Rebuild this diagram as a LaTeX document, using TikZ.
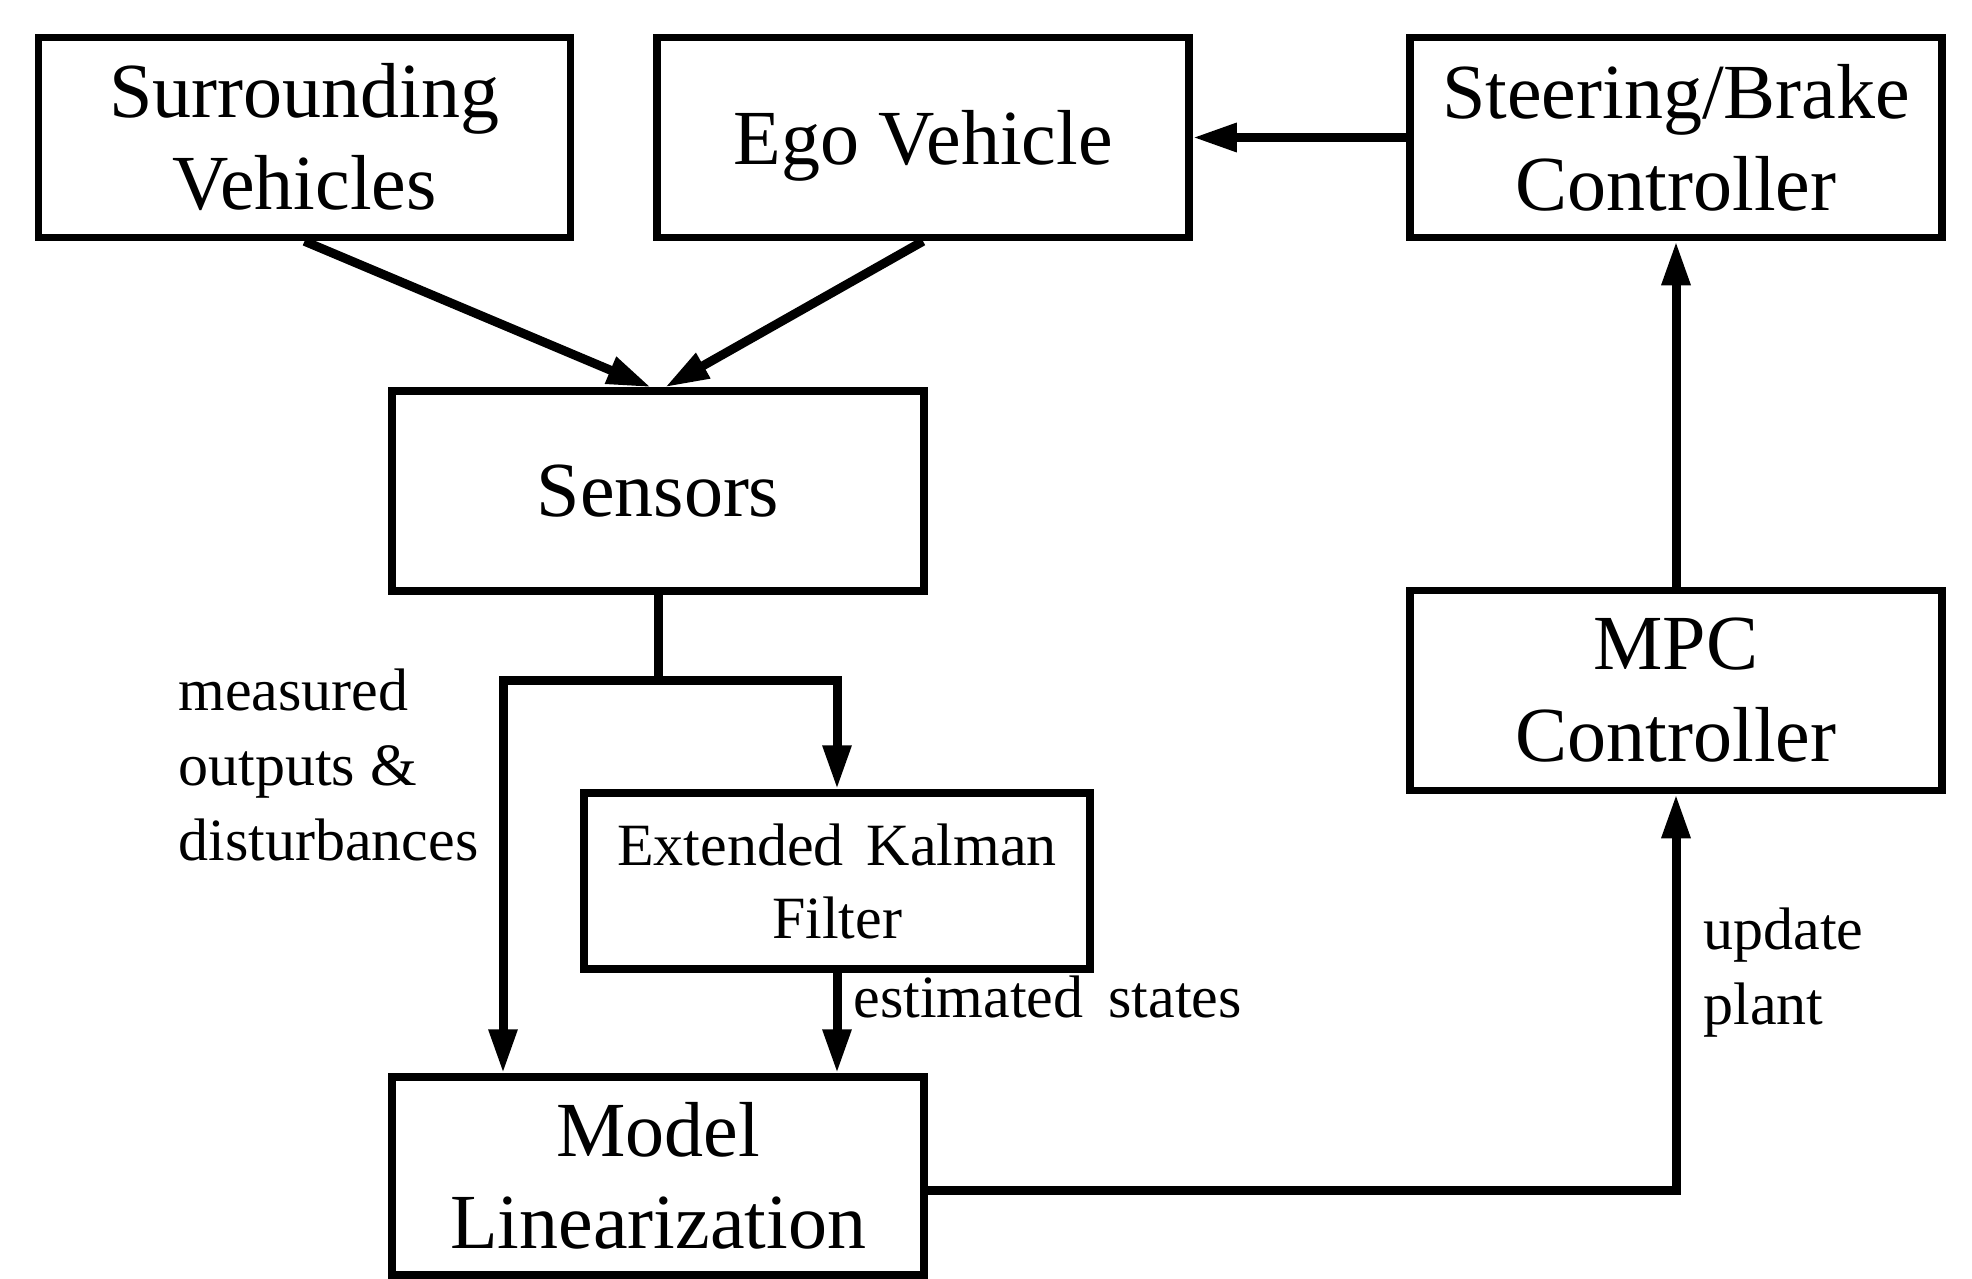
\documentclass[tikz,border=0pt]{standalone}
\usepackage{fontspec}
\setmainfont{Liberation Serif}
\usetikzlibrary{arrows.meta}
\begin{document}
\begin{tikzpicture}[x=0.5pt,y=-0.5pt,
  box/.style={draw, line width=3.75pt, minimum width=266pt, minimum height=100pt, inner sep=0pt, align=center, font=\fontsize{39}{46}\selectfont},
  conn/.style={line width=4.5pt, -{Triangle[length=22pt,width=13.5pt]}},
  wire/.style={line width=4.5pt},
  lab/.style={inner sep=0pt, align=left, font=\fontsize{30}{37.5}\selectfont}]
\useasboundingbox (0,0) rectangle (1972,1279);
\node[box] (sv) at (304.5,137.5) {Surrounding\\Vehicles};
\node[box, text depth=0pt] (ev) at (923,137.5) {Ego Vehicle};
\node[box] (sb) at (1676,137.5) {Steering/Brake\\Controller};
\node[box] (sen) at (658,491) {Sensors};
\node[box] (mpc) at (1676,690.5) {MPC\\Controller};
\node[box, minimum width=253pt, minimum height=88pt, font=\fontsize{30}{36.5}\selectfont] (ekf) at (837,881) {Extended\hspace{4pt} Kalman\\Filter};
\node[box, minimum height=99pt] (ml) at (658,1176) {Model\\Linearization};

\draw[conn] (sv.south) -- ([xshift=-3.5pt]sen.north);
\draw[conn] (ev.south) -- ([xshift=3.5pt]sen.north);
\draw[conn] (sb.west) -- (ev.east);
\draw[conn] (mpc.north) -- (sb.south);
\coordinate (split) at (658,680);
\draw[wire] (sen.south) -- (split);
\draw[conn] (split) -| (ekf.north);
\draw[conn] (split) -| ([xshift=-77.5pt]ml.north);
\draw[conn] (ekf.south) -- (ekf.south |- ml.north);
\draw[conn] ([yshift=-7pt]ml.east) -| (mpc.south);

\node[lab, anchor=north west] (meas) at (178,668) {measured\\outputs \&\\disturbances};
\node[lab, anchor=base west] (est) at (853,1017) {estimated\hspace{5pt} states};
\node[lab, anchor=north west] (upd) at (1703,907) {update\\plant};
\end{tikzpicture}
\end{document}
